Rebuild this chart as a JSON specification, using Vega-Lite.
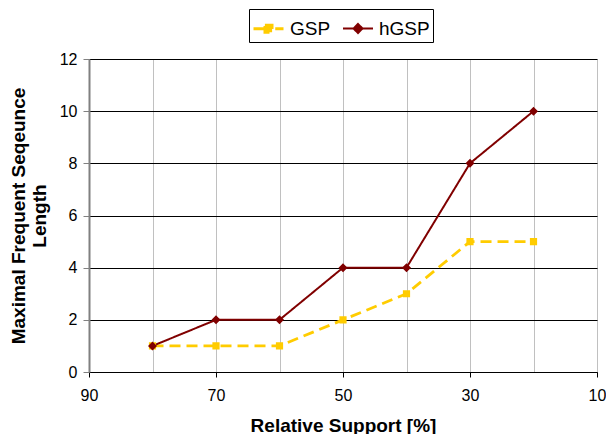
{
  "$schema": "https://vega.github.io/schema/vega-lite/v6.json",
  "width": 508,
  "height": 313,
  "autosize": {"type": "none"},
  "padding": {"left": 89, "top": 59, "right": 9, "bottom": 62},
  "background": "white",
  "config": {
    "view": {"stroke": null},
    "font": "Liberation Sans",
    "axis": {"labelFont": "Liberation Sans", "titleFont": "Liberation Sans", "labelColor": "black", "titleColor": "black"}
  },
  "data": {
    "values": [
      {"support": 80, "len": 1, "algo": "GSP"},
      {"support": 70, "len": 1, "algo": "GSP"},
      {"support": 60, "len": 1, "algo": "GSP"},
      {"support": 50, "len": 2, "algo": "GSP"},
      {"support": 40, "len": 3, "algo": "GSP"},
      {"support": 30, "len": 5, "algo": "GSP"},
      {"support": 20, "len": 5, "algo": "GSP"},
      {"support": 80, "len": 1, "algo": "hGSP"},
      {"support": 70, "len": 2, "algo": "hGSP"},
      {"support": 60, "len": 2, "algo": "hGSP"},
      {"support": 50, "len": 4, "algo": "hGSP"},
      {"support": 40, "len": 4, "algo": "hGSP"},
      {"support": 30, "len": 8, "algo": "hGSP"},
      {"support": 20, "len": 10, "algo": "hGSP"}
    ]
  },
  "encoding": {
    "x": {
      "field": "support", "type": "quantitative",
      "scale": {"domain": [90, 10], "nice": false, "zero": false},
      "axis": {
        "values": [90, 80, 70, 60, 50, 40, 30, 20, 10],
        "labelExpr": "datum.value % 20 == 10 ? datum.label : ''",
        "tickOpacity": {"condition": {"test": "datum.value % 20 == 10", "value": 1}, "value": 0},
        "grid": true, "gridColor": "#c0c0c0", "gridWidth": 1,
        "domainColor": "black", "tickColor": "black", "tickSize": 5,
        "labelFontSize": 16, "labelPadding": 10, "labelFlush": false,
        "title": "Relative Support [%]", "titleFontSize": 19, "titleFontWeight": "bold", "titlePadding": 13
      }
    },
    "y": {
      "field": "len", "type": "quantitative",
      "scale": {"domain": [0, 12], "nice": false},
      "axis": {
        "values": [0, 2, 4, 6, 8, 10, 12],
        "grid": true, "gridColor": "black", "gridWidth": 1,
        "domainColor": "#808080", "domainWidth": 2, "tickColor": "#808080", "tickSize": 6,
        "labelFontSize": 16, "labelPadding": 6,
        "title": ["Maximal Frequent Seqeunce", "Length"], "titleFontSize": 19, "titleFontWeight": "bold", "titlePadding": 10, "titleLineHeight": 21
      }
    },
    "color": {
      "field": "algo", "type": "nominal",
      "scale": {"domain": ["GSP", "hGSP"], "range": ["#FFCC00", "#800000"]},
      "legend": {
        "title": null, "orient": "none", "direction": "horizontal",
        "legendX": 160, "legendY": -50,
        "strokeColor": "black", "fillColor": "white", "padding": 3,
        "labelFontSize": 19, "labelFont": "Liberation Sans", "labelColor": "black",
        "symbolSize": 900, "symbolStrokeWidth": 2.5, "labelOffset": 5, "columnPadding": 8
      }
    }
  },
  "layer": [
    {
      "mark": {"type": "line"},
      "encoding": {
        "strokeDash": {
          "field": "algo", "type": "nominal",
          "scale": {"domain": ["GSP", "hGSP"], "range": [[11, 6], [1, 0]]},
          "legend": null
        },
        "strokeWidth": {
          "field": "algo", "type": "nominal",
          "scale": {"domain": ["GSP", "hGSP"], "range": [2.8, 2]},
          "legend": null
        }
      }
    },
    {
      "mark": {"type": "point", "filled": true, "opacity": 1, "size": 900},
      "encoding": {
        "shape": {
          "field": "algo", "type": "nominal",
          "scale": {"domain": ["GSP", "hGSP"], "range": ["M-1,0H-0.3M0.45,0H1M-0.24,-0.24H0.24V0.24H-0.24Z", "M-1,0H1M0,-0.3L0.3,0L0,0.3L-0.3,0Z"]}
        }
      }
    }
  ]
}
